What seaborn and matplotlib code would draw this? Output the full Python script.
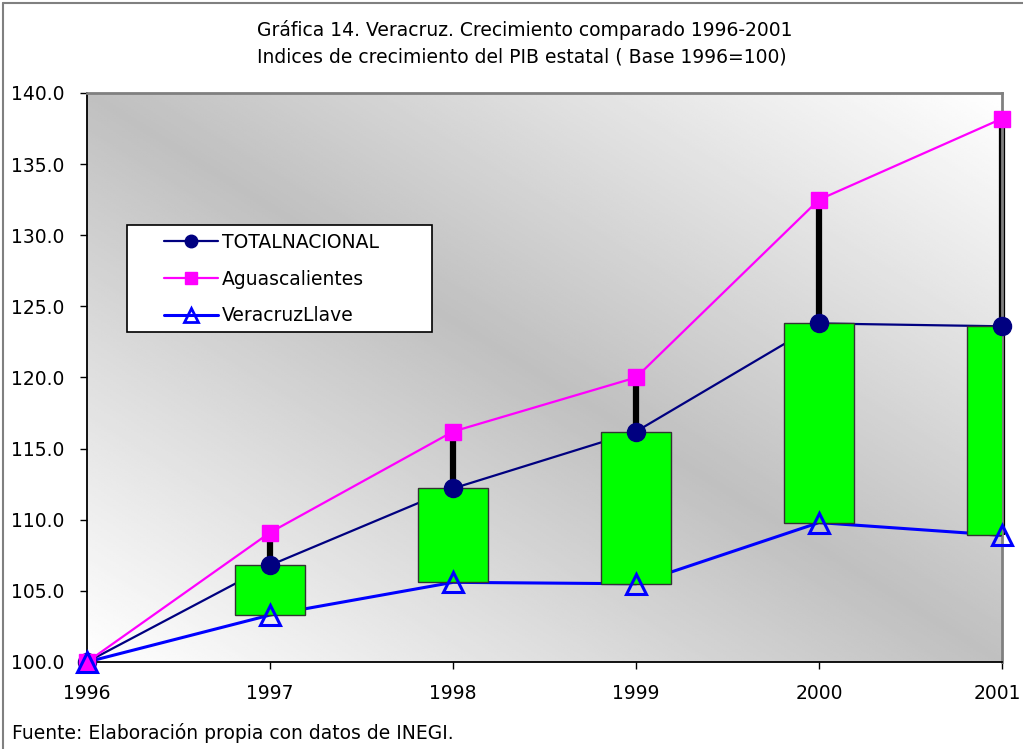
"""Grafica 14: Veracruz, crecimiento comparado 1996-2001 (indices PIB estatal)."""

import matplotlib

matplotlib.use("Agg")

import matplotlib.pyplot as plt
import matplotlib.transforms as mtransforms
import numpy as np
import pandas as pd
import seaborn as sns
from matplotlib.lines import Line2D
from matplotlib.patches import Rectangle

years = [1996, 1997, 1998, 1999, 2000, 2001]
total_nacional = [100.0, 106.8, 112.2, 116.2, 123.8, 123.6]
aguascalientes = [100.0, 109.1, 116.2, 120.0, 132.5, 138.2]
veracruz_llave = [100.0, 103.3, 105.6, 105.5, 109.8, 108.9]

series_names = ["TOTALNACIONAL", "Aguascalientes", "VeracruzLlave"]
y_ticks = [100, 105, 110, 115, 120, 125, 130, 135, 140]

title_1 = "Gráfica 14. Veracruz. Crecimiento comparado 1996-2001"
title_2 = "Indices de crecimiento del PIB estatal ( Base 1996=100)"
source = "Fuente: Elaboración propia con datos de INEGI."

NAVY = "#000080"
MAGENTA = "#FF00FF"
BLUE = "#0000FF"
GREEN = "#00FF00"
FS = 13.5

df = pd.DataFrame(
    {
        "year": years * 3,
        "value": total_nacional + aguascalientes + veracruz_llave,
        "serie": sum([[name] * len(years) for name in series_names], []),
    }
)

sns.set_theme(style="white")
plt.rcParams["font.family"] = ["DejaVu Sans"]
plt.rcParams["text.color"] = "black"
plt.rcParams["xtick.color"] = "black"
plt.rcParams["ytick.color"] = "black"

fig = plt.figure(figsize=(10.23, 7.49), dpi=100)
ax = fig.add_axes([87 / 1023, 87 / 749, 915 / 1023, 569 / 749])

# diagonal gradient background, grey along top-left -> bottom-right
gx, gy = np.meshgrid(np.linspace(0, 1, 300), np.linspace(0, 1, 300))
shade = 0.753 + (1 - 0.753) * np.abs(gx + gy - 1)
ax.imshow(shade, cmap="gray", vmin=0, vmax=1, extent=[0, 1, 0, 1], origin="lower",
          transform=ax.transAxes, aspect="auto", zorder=0)

# high-low lines
highs = np.max([total_nacional, aguascalientes, veracruz_llave], axis=0)
lows = np.min([total_nacional, aguascalientes, veracruz_llave], axis=0)
ax.vlines(years, lows, highs, color="black", linewidth=4.5, zorder=1, clip_on=False)

palette = {"TOTALNACIONAL": NAVY, "Aguascalientes": MAGENTA, "VeracruzLlave": BLUE}
widths = {"TOTALNACIONAL": 1.6, "Aguascalientes": 1.6, "VeracruzLlave": 2.2}
for name in series_names:
    sub = df[df["serie"] == name]
    sns.lineplot(data=sub, x="year", y="value", color=palette[name],
                 linewidth=widths[name], ax=ax, zorder=2, legend=False)

# up-down bars between first and last series
bar_bottom = np.minimum(total_nacional, veracruz_llave)
bar_height = np.abs(np.array(total_nacional) - np.array(veracruz_llave))
ax.bar(years[1:], bar_height[1:], bottom=bar_bottom[1:], width=0.38, color=GREEN,
       edgecolor="#333333", linewidth=1.0, zorder=3)

# markers on top
ax.plot(years, total_nacional, "o", color=NAVY, markersize=13, zorder=5, clip_on=False)
ax.plot(years, aguascalientes, "s", color=MAGENTA, markersize=12, zorder=5, clip_on=False)
ax.plot(years, veracruz_llave, "^", markerfacecolor="none", markeredgecolor=BLUE,
        markeredgewidth=2.2, markersize=14, zorder=5, clip_on=False)

ax.set_xlim(1996, 2001)
ax.set_ylim(100, 140)
ax.set_xticks(years)
ax.set_xticklabels([str(y) for y in years])
ax.set_yticks(y_ticks)
ax.set_yticklabels([f"{v:.1f}" for v in y_ticks])
ax.set_xlabel("")
ax.set_ylabel("")
ax.tick_params(axis="both", which="major", direction="out", length=5, width=1,
               color="black", labelcolor="black", labelsize=FS, bottom=True, left=True,
               pad=11)

# keep the last year label inside the picture
last = ax.get_xticklabels()[-1]
last.set_transform(last.get_transform()
                   + mtransforms.ScaledTranslation(-5 / 100, 0, fig.dpi_scale_trans))

for side in ["left", "bottom"]:
    ax.spines[side].set_color("black")
    ax.spines[side].set_linewidth(1.3)
for side in ["top", "right"]:
    ax.spines[side].set_color("#808080")
    ax.spines[side].set_linewidth(2)

# legend in a white box
ax.add_patch(Rectangle((40 / 915, 330 / 569), 305 / 915, 107 / 569, transform=ax.transAxes,
                       facecolor="white", edgecolor="black", linewidth=1.2, zorder=6))
handles = [
    Line2D([], [], color=NAVY, linewidth=1.6, marker="o", markersize=9),
    Line2D([], [], color=MAGENTA, linewidth=1.6, marker="s", markersize=9),
    Line2D([], [], color=BLUE, linewidth=2.2, marker="^", markersize=10,
           markerfacecolor="none", markeredgewidth=2),
]
leg = ax.legend(handles, series_names, loc="upper left",
                bbox_to_anchor=(77 / 915, 429 / 569), frameon=False, fontsize=FS,
                handlelength=2.9, handletextpad=0.2, labelspacing=0.94, borderpad=0,
                borderaxespad=0)
leg.set_zorder(7)

fig.text(525 / 1023, 1 - 30 / 749, title_1, ha="center", va="center", fontsize=FS)
fig.text(522 / 1023, 1 - 57 / 749, title_2, ha="center", va="center", fontsize=FS)
fig.text(12 / 1023, 1 - 733 / 749, source, ha="left", va="center", fontsize=FS)

# outer chart frame
fig.add_artist(Line2D([3 / 1023, 3 / 1023], [0, 1 - 3 / 749], transform=fig.transFigure,
                      color="#808080", linewidth=1.5))
fig.add_artist(Line2D([3 / 1023, 1], [1 - 3 / 749, 1 - 3 / 749], transform=fig.transFigure,
                      color="#808080", linewidth=1.5))

fig.savefig("out.png", dpi=100)
